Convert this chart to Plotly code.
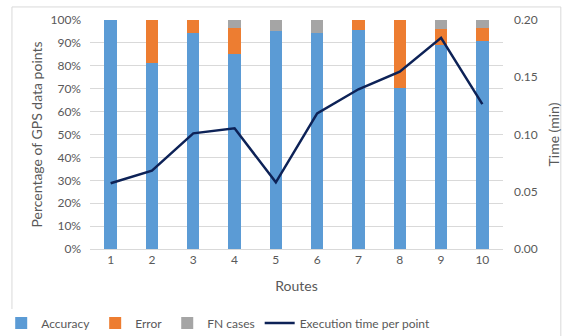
import plotly.graph_objects as go

routes = ["1", "2", "3", "4", "5", "6", "7", "8", "9", "10"]
accuracy = [1.000, 0.811, 0.945, 0.852, 0.952, 0.945, 0.956, 0.704, 0.891, 0.908]
error = [0.000, 0.189, 0.055, 0.114, 0.000, 0.000, 0.044, 0.296, 0.069, 0.058]
fn_cases = [0.000, 0.000, 0.000, 0.034, 0.048, 0.055, 0.000, 0.000, 0.040, 0.034]
exec_time = [0.0574, 0.0684, 0.1010, 0.1054, 0.0582, 0.1185, 0.1395, 0.1549, 0.1845, 0.1266]

font_family = "Lato, 'Open Sans', sans-serif"
text_color = "#595959"
grid_color = "#d9d9d9"

fig = go.Figure()
fig.add_trace(go.Bar(x=routes, y=accuracy, name="Accuracy", marker_color="#5b9bd5",
                     marker_line_width=0))
fig.add_trace(go.Bar(x=routes, y=error, name="Error", marker_color="#ed7d31",
                     marker_line_width=0))
fig.add_trace(go.Bar(x=routes, y=fn_cases, name="FN cases", marker_color="#a5a5a5",
                     marker_line_width=0))
fig.add_trace(go.Scatter(x=routes, y=exec_time, name="Execution time per point",
                         yaxis="y2", mode="lines",
                         line=dict(color="#0d2257", width=2.5)))

fig.update_layout(
    width=573, height=336,
    margin=dict(l=90, r=70, t=20, b=87, autoexpand=False),
    barmode="stack", bargap=0.7,
    plot_bgcolor="white", paper_bgcolor="white",
    font=dict(family=font_family, size=12, color=text_color),
    xaxis=dict(
        type="category", showgrid=False, showline=True, linecolor=grid_color,
        ticks="", tickfont=dict(size=12, color=text_color), automargin=False,
        title=dict(text="Routes", font=dict(size=14, color=text_color), standoff=14),
    ),
    yaxis=dict(
        range=[0, 1], dtick=0.1, tickformat=".0%", showgrid=True,
        gridcolor=grid_color, gridwidth=1, zeroline=False, ticks="",
        ticklabelstandoff=8, tickfont=dict(size=12, color=text_color), automargin=False,
        title=dict(text="Percentage of GPS data points",
                   font=dict(size=14, color=text_color), standoff=4),
    ),
    yaxis2=dict(
        range=[0, 0.2], dtick=0.05, tickformat=".2f", overlaying="y", side="right",
        showgrid=False, zeroline=False, ticks="", ticklabelstandoff=10, automargin=False,
        tickfont=dict(size=12, color=text_color),
        title=dict(text="Time (min)", font=dict(size=14, color=text_color), standoff=12),
    ),
    legend=dict(
        orientation="h", x=-0.215, xanchor="left", y=-0.26, yanchor="top",
        font=dict(size=12, color=text_color), traceorder="normal",
        itemwidth=30, tracegroupgap=0,
    ),
    shapes=[dict(type="rect", xref="paper", yref="paper",
                 x0=-0.189, x1=1.14, y0=-0.5, y1=1.057,
                 line=dict(color="#d9d9d9", width=1), layer="below")],
)

fig.write_html("out.html")
